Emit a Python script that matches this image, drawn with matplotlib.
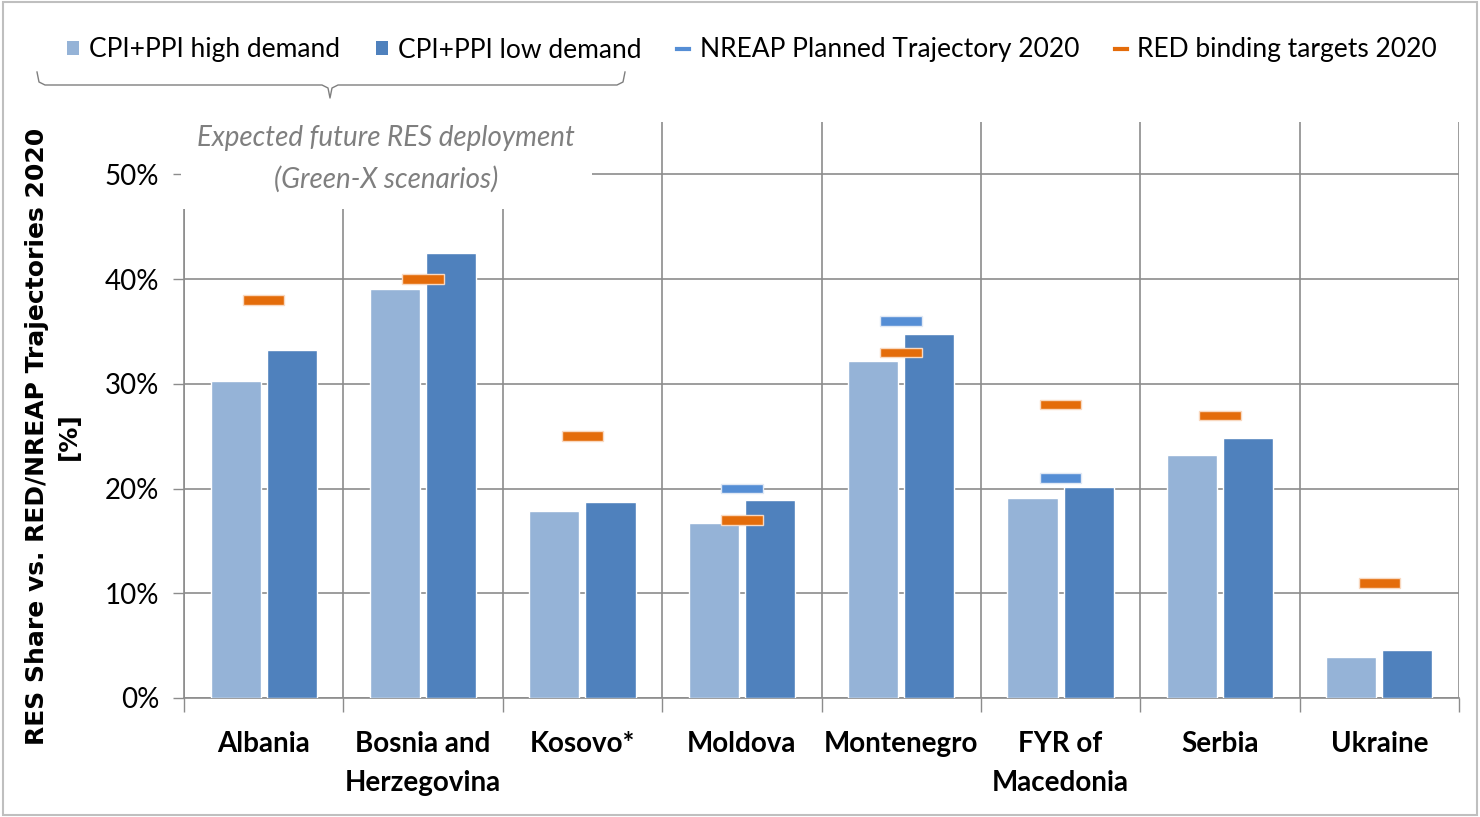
import numpy as np
import matplotlib.pyplot as plt
from matplotlib.patches import Patch, Rectangle
from matplotlib.lines import Line2D

# data (RES share in %)
countries = ['Albania', 'Bosnia and\nHerzegovina', 'Kosovo*', 'Moldova', 'Montenegro',
             'FYR of\nMacedonia', 'Serbia', 'Ukraine']
high_demand = [30.3, 39.1, 17.9, 16.7, 32.2, 19.1, 23.2, 3.95]
low_demand = [33.2, 42.5, 18.7, 18.9, 34.8, 20.1, 24.8, 4.55]
nreap = [np.nan, np.nan, np.nan, 20.0, 36.0, 21.0, np.nan, np.nan]
red_targets = [38.0, 40.0, 25.0, 17.0, 33.0, 28.0, 27.0, 11.0]

c_light = '#95B3D7'
c_dark = '#4F81BD'
c_nreap = '#558ED5'
c_red = '#E46C0A'
grid_c = '#8C8C8C'

plt.rcParams['font.family'] = ['Lato', 'DejaVu Sans']

fig = plt.figure(figsize=(14.8, 8.17), dpi=100)
ax = fig.add_axes([184/1480, 1 - 698/817, (1459-184)/1480, (698-122)/817])

x = np.arange(len(countries))
w = 0.314
off = 0.176
ax.bar(x - off, high_demand, w, color=c_light, edgecolor='white', linewidth=1, zorder=3)
ax.bar(x + off, low_demand, w, color=c_dark, edgecolor='white', linewidth=1, zorder=3)

# target markers as short thick rectangles
mw, mh = 0.26, 0.9
nreap_arr = np.array(nreap)
ok = ~np.isnan(nreap_arr)
ax.bar(x[ok], [mh]*ok.sum(), mw, bottom=nreap_arr[ok] - mh/2, color=c_nreap,
       edgecolor='#E0E8F4', linewidth=1, zorder=4)
ax.bar(x, [mh]*len(x), mw, bottom=np.array(red_targets) - mh/2, color=c_red,
       edgecolor='#F8D8C0', linewidth=1, zorder=4)

ax.set_xlim(-0.5, len(countries) - 0.5)
ax.set_ylim(0, 55)
ax.set_yticks(np.arange(0, 51, 10))
ax.set_yticklabels([f'{v}%' for v in range(0, 51, 10)], fontsize=20)
ax.set_xticks(x)
ax.set_xticklabels(countries, fontsize=20, fontweight='bold', linespacing=1.6)
ax.set_xticks(np.arange(-0.5, len(countries)), minor=True)
ax.tick_params(axis='x', which='major', length=0, pad=24)
ax.tick_params(axis='x', which='minor', length=10, color=grid_c, width=1)
ax.tick_params(axis='y', length=8, color=grid_c, width=1, pad=10)
ax.grid(axis='y', which='major', color=grid_c, linewidth=1.2, zorder=0)
ax.grid(axis='x', which='minor', color=grid_c, linewidth=1.2, zorder=0)
ax.set_axisbelow(True)
for s in ['top', 'right']:
    ax.spines[s].set_visible(False)
for s in ['left', 'bottom']:
    ax.spines[s].set_color(grid_c)
    ax.spines[s].set_linewidth(1.2)

# annotation box
ax.text(0.77, 51.5, 'Expected future RES deployment\n(Green-X scenarios)', ha='center', va='center',
        fontsize=20, style='italic', color='#7F7F7F', linespacing=1.7, zorder=5,
        bbox=dict(facecolor='white', edgecolor='none', pad=12))

# y label
fig.text(53/1480, 1 - 436/817, 'RES Share vs. RED/NREAP Trajectories 2020\n[%]', rotation=90,
         ha='center', va='center', fontsize=18, fontweight='bold', family='DejaVu Sans',
         multialignment='center', linespacing=1.4)

# legend
handles = [Patch(facecolor=c_light, edgecolor='none'),
           Patch(facecolor=c_dark, edgecolor='none'),
           Line2D([], [], color=c_nreap, lw=3),
           Line2D([], [], color=c_red, lw=3)]
labels = ['CPI+PPI high demand', 'CPI+PPI low demand', 'NREAP Planned Trajectory 2020',
          'RED binding targets 2020']
fig.legend(handles, labels, loc='center', bbox_to_anchor=(752/1480, 1 - 50/817), ncol=4,
           frameon=False, fontsize=19, handlelength=0.45, handleheight=0.45,
           handletextpad=0.4, columnspacing=1.35)

# brace under the first two legend entries
def fx(px):
    return px / 1480
def fy(py):
    return 1 - py / 817
bx = [37, 39, 45, 322, 328, 330, 332, 338, 617, 623, 625]
by = [72, 82, 85, 85, 88, 98, 88, 85, 85, 82, 72]
fig.add_artist(Line2D([fx(v) for v in bx], [fy(v) for v in by], color='#7F7F7F', lw=1))

# figure frame
fig.add_artist(Rectangle((0.002, 0.003), 0.996, 0.994, transform=fig.transFigure, fill=False,
                         edgecolor='#BFBFBF', linewidth=1.5))

fig.savefig('out.png', dpi=100)
